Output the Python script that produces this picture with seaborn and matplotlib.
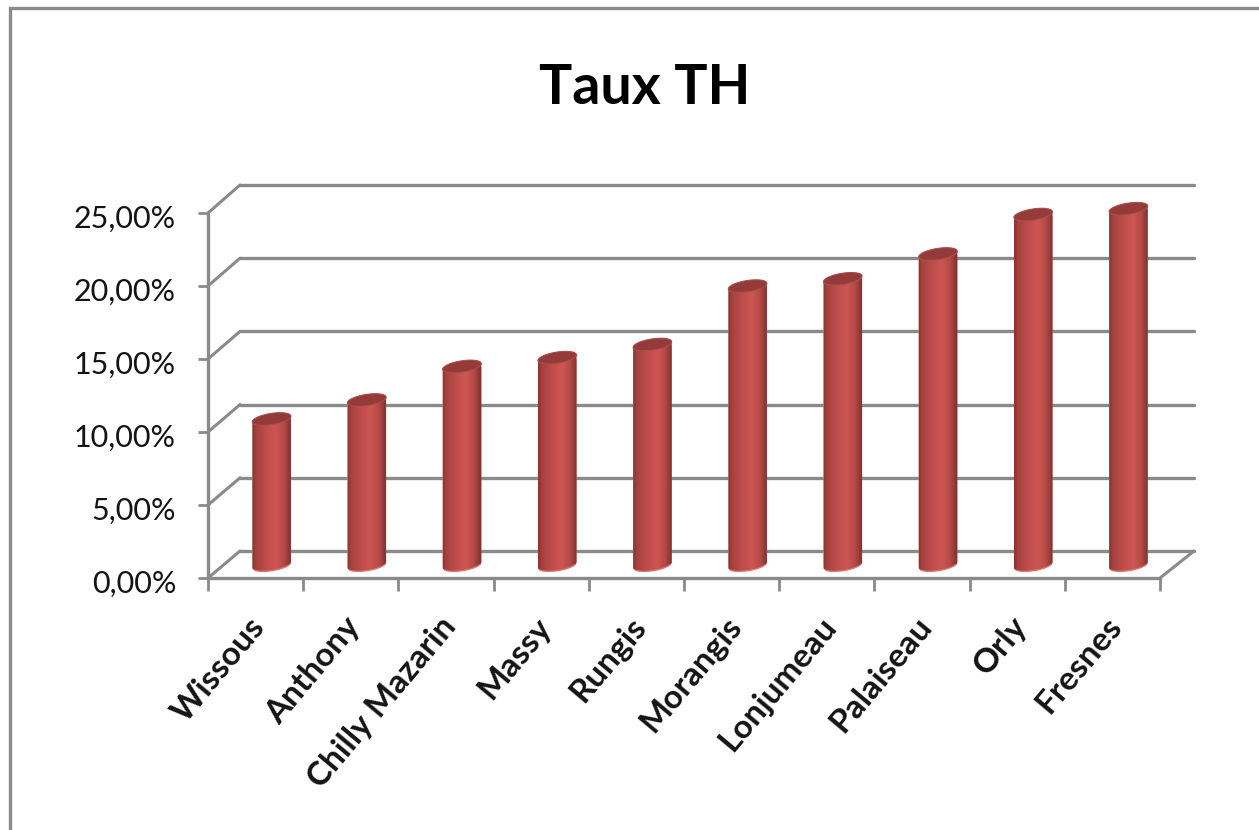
import numpy as np
import matplotlib
matplotlib.use("Agg")
import matplotlib.pyplot as plt
import seaborn as sns
from matplotlib.colors import LinearSegmentedColormap
from matplotlib.patches import ConnectionPatch, Polygon, Rectangle
from matplotlib.path import Path
from matplotlib.transforms import IdentityTransform, ScaledTranslation

cities = ["Wissous", "Anthony", "Chilly Mazarin", "Massy", "Rungis",
          "Morangis", "Lonjumeau", "Palaiseau", "Orly", "Fresnes"]
taux_th = [10.0, 11.3, 13.6, 14.2, 15.1, 19.1, 19.6, 21.3, 24.0, 24.4]
y_ticks = [0, 5, 10, 15, 20, 25]
y_labels = ["0,00%", "5,00%", "10,00%", "15,00%", "20,00%", "25,00%"]

W, H = 1259, 830
GRAY = "#8a8a8a"
TEXT = "#141414"

sns.set_theme(style="white")
plt.rcParams["font.family"] = ["Lato", "DejaVu Sans"]

fig = plt.figure(figsize=(W / 100, H / 100), dpi=100, facecolor="white")


def axes_px(x0, x1, y_top, y_bottom):
    """Axes placed from pixel positions measured from the top left."""
    return fig.add_axes([x0 / W, 1 - y_bottom / H, (x1 - x0) / W, (y_bottom - y_top) / H])


def nudge(label, dx, dy):
    """Move a tick label by a few pixels."""
    label.set_transform(label.get_transform() + ScaledTranslation(dx / 100, dy / 100, fig.dpi_scale_trans))


# outer chart border, cut off by the right and bottom of the image
fig.add_artist(Rectangle((10, -20), W + 20, H - 8 + 20, transform=IdentityTransform(),
                         fill=False, edgecolor=GRAY, linewidth=2.4))

# back wall, front plane, and the plane the cylinders stand in
ax_back = axes_px(240, 1194, 185, 551)
ax = axes_px(208, 1160, 213, 578)
ax_bars = axes_px(224, 1176, 200, 565)

for a in (ax_back, ax, ax_bars):
    a.set_xlim(-0.5, 9.5)
    a.set_ylim(0, 25)
    a.patch.set_visible(False)

ax_back.set_yticks(y_ticks)
ax_back.set_yticklabels([])
ax_back.set_xticks([])
ax_back.tick_params(left=False)
ax_back.grid(axis="y", color=GRAY, linewidth=2.4)
for line in ax_back.get_ygridlines():
    line.set_clip_on(False)
sns.despine(ax=ax_back, left=True, bottom=True)

ax.set_yticks(y_ticks, labels=y_labels)
ax.set_xticks(np.arange(-0.5, 10, 1), labels=[])
ax.set_xticks(np.arange(10), labels=cities, minor=True)
ax.tick_params(axis="y", length=7, width=2, color=GRAY, labelsize=22, labelcolor=TEXT, pad=16, left=True)
ax.tick_params(axis="x", which="major", length=9, width=2, color=GRAY, bottom=True)
ax.tick_params(axis="x", which="minor", length=0, pad=20, labelsize=24, labelcolor=TEXT)
for lab in ax.get_xticklabels(minor=True):
    lab.set(rotation=50, ha="right", va="top", rotation_mode="anchor", fontweight="bold")
    nudge(lab, -7, -6)
for lab in ax.get_yticklabels():
    nudge(lab, 0, -3)
sns.despine(ax=ax)
for side in ("left", "bottom"):
    ax.spines[side].set_color(GRAY)
    ax.spines[side].set_linewidth(2.4)

# side wall and floor edges joining the front plane to the back wall
for v in y_ticks:
    fig.add_artist(ConnectionPatch((-0.5, v), (-0.5, v), ax.transData, ax_back.transData,
                                   color=GRAY, linewidth=2.2))
fig.add_artist(ConnectionPatch((9.5, 0), (9.5, 0), ax.transData, ax_back.transData,
                               color=GRAY, linewidth=2.2))

ax.set_title("Taux TH", fontsize=40, fontweight="bold", color="black", x=0.4586, y=1.319, va="center")

# bars come from seaborn, then each one gets the cylinder look
sns.barplot(x=cities, y=taux_th, color="#bf4d4a", saturation=1, width=0.41, ax=ax_bars)
ax_bars.set_xlim(-0.5, 9.5)
ax_bars.set_ylim(0, 25)
ax_bars.axis("off")

shade = LinearSegmentedColormap.from_list("cyl", [
    (0.0, "#85332f"), (0.1, "#a5413f"), (0.35, "#bf4d4a"), (0.6, "#cd5653"),
    (0.8, "#b54a47"), (0.93, "#8e3836"), (1.0, "#7a2e2c")])
gradient = np.linspace(0, 1, 256).reshape(1, -1)
tilt = np.radians(9)


def ellipse(cx, cy, a, b, t):
    ex, ey = a * np.cos(t), b * np.sin(t)
    return np.column_stack([cx + ex * np.cos(tilt) - ey * np.sin(tilt),
                            cy + ex * np.sin(tilt) + ey * np.cos(tilt)])


fig.canvas.draw()
for bar in list(ax_bars.patches):
    x0, w, h = bar.get_x(), bar.get_width(), bar.get_height()
    left, base = ax_bars.transData.transform((x0, 0))
    right, top = ax_bars.transData.transform((x0 + w, h))
    cx, a, b = (left + right) / 2, (right - left) / 2, 5.6

    lower = np.linspace(np.pi, 2 * np.pi, 60)
    upper = np.linspace(0, np.pi, 60)
    body = Path(np.vstack([ellipse(cx, base, a, b, lower), ellipse(cx, top, a, b, upper)]), closed=False)

    bar.set_clip_path(body, IdentityTransform())
    im = ax_bars.imshow(gradient, cmap=shade, extent=(x0, x0 + w, -2, h + 2), aspect="auto",
                        interpolation="bilinear", zorder=3)
    im.set_clip_box(fig.bbox)
    im.set_clip_path(body, IdentityTransform())

    rim = ellipse(cx, base, a, b, lower[8:-8])
    ax_bars.plot(rim[:, 0], rim[:, 1], transform=IdentityTransform(), color="#d9736f",
                 linewidth=1.0, zorder=4, clip_on=False)
    ax_bars.add_patch(Polygon(ellipse(cx, top, a, b, np.linspace(0, 2 * np.pi, 120)),
                              transform=IdentityTransform(), facecolor="#943a38",
                              edgecolor="#a9504e", linewidth=0.8, zorder=5, clip_on=False))

ax_bars.set_xlim(-0.5, 9.5)
ax_bars.set_ylim(0, 25)

fig.savefig("out.png", dpi=100)
